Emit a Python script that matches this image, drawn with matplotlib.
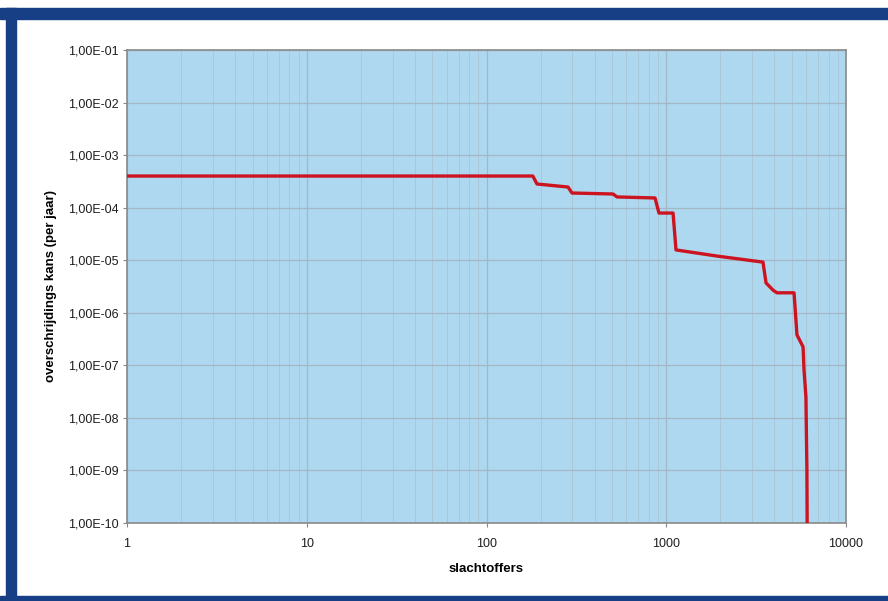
import matplotlib
matplotlib.use('Agg')
import matplotlib.pyplot as plt
import matplotlib.ticker as ticker
from matplotlib.patches import Rectangle
from matplotlib import rcParams

rcParams.update({'font.family': ['Liberation Sans', 'DejaVu Sans']})

# slachtoffers vs overschrijdingskans
victims = [1, 181, 191, 284, 299, 506, 532, 866, 911, 1091, 1133, 1915, 3453,
           3590, 3925, 4130, 5140, 5335, 5770, 5840, 5985, 6060, 6080]
prob = [4.0e-4, 4.0e-4, 2.82e-4, 2.47e-4, 1.9e-4, 1.82e-4, 1.6e-4, 1.53e-4,
        7.9e-5, 7.9e-5, 1.57e-5, 1.2e-5, 9.2e-6, 3.7e-6, 2.7e-6, 2.4e-6,
        2.4e-6, 3.8e-7, 2.24e-7, 8.2e-8, 2.5e-8, 1e-9, 1e-10]

x_ticks = [1, 10, 100, 1000, 10000]
y_exps = list(range(-10, 0))

frame_blue = '#173f85'
bg_blue = '#aed8f0'
grid_color = '#a3b7c4'
line_red = '#cc1420'


def fmt_y(v, pos):
    import math
    e = int(round(math.log10(v)))
    return '1,00E-%02d' % (-e)


def main():
    fig = plt.figure(figsize=(8.88, 6.01), dpi=100)
    fig.patch.set_facecolor('white')

    # blue frame around the picture
    W, H = 888, 601
    fig.patches.append(Rectangle((0, 1 - 19 / H), 1, 11 / H, transform=fig.transFigure,
                                 color=frame_blue, zorder=0))
    fig.patches.append(Rectangle((6 / W, 0), 10 / W, 1 - 8 / H, transform=fig.transFigure,
                                 color=frame_blue, zorder=0))
    fig.patches.append(Rectangle((0, 0), 1, 5 / H, transform=fig.transFigure,
                                 color=frame_blue, zorder=0))

    ax = fig.add_axes([127 / W, 78 / H, 719 / W, 473 / H])
    ax.set_facecolor(bg_blue)
    ax.set_xscale('log')
    ax.set_yscale('log')
    ax.set_xlim(1, 10000)
    ax.set_ylim(1e-10, 1e-1)

    ax.plot(victims, prob, color=line_red, lw=2.4, solid_joinstyle='round', zorder=3)

    ax.set_xticks(x_ticks)
    ax.xaxis.set_major_formatter(ticker.FuncFormatter(lambda v, p: '%d' % v))
    ax.xaxis.set_minor_locator(ticker.LogLocator(base=10, subs=range(2, 10), numticks=20))
    ax.xaxis.set_minor_formatter(ticker.NullFormatter())
    ax.set_yticks([10.0 ** e for e in y_exps])
    ax.yaxis.set_major_formatter(ticker.FuncFormatter(fmt_y))
    ax.yaxis.set_minor_locator(ticker.NullLocator())

    ax.grid(True, which='major', color=grid_color, lw=0.9)
    ax.grid(True, which='minor', axis='x', color=grid_color, lw=0.6, alpha=0.6)
    ax.set_axisbelow(True)

    ax.tick_params(which='major', length=3, width=0.8, color='#888888',
                   labelsize=9, labelcolor='#1e1e1e', pad=3)
    ax.tick_params(axis='x', which='major', pad=8)
    ax.tick_params(which='minor', length=0)
    for s in ax.spines.values():
        s.set_color('#8a8a8a')
        s.set_linewidth(1.2)

    ax.set_xlabel('slachtoffers', fontsize=9.5, fontweight='bold', labelpad=9)
    ax.set_ylabel('overschrijdings kans (per jaar)', fontsize=9.5, fontweight='bold', labelpad=8)

    plt.savefig('out.png', dpi=100, facecolor='white')


if __name__ == '__main__':
    main()
